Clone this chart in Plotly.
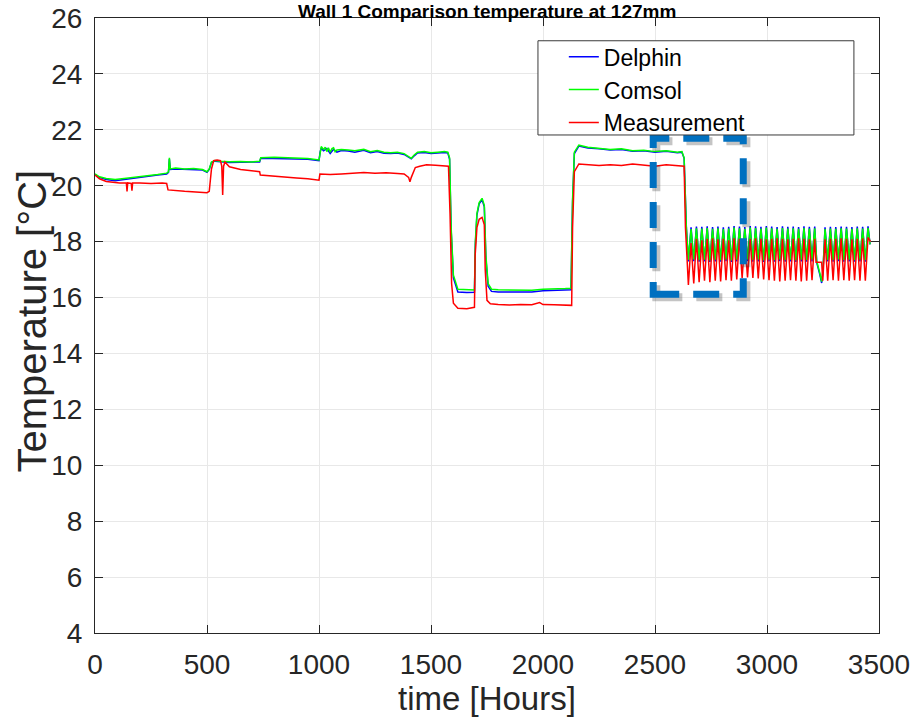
import plotly.graph_objects as go

# ---------------- data (hours, temperature °C) ----------------
delphin = [
    (0, 20.4), (20, 20.3), (50, 20.22), (90, 20.18), (130, 20.22), (180, 20.28), (230, 20.33), (280, 20.38),
    (320, 20.42), (328, 20.48), (332, 20.95), (336, 20.58), (360, 20.6), (420, 20.58), (480, 20.56),
    (500, 20.48), (510, 20.58), (520, 20.83), (535, 20.88), (560, 20.86), (600, 20.83), (650, 20.84),
    (700, 20.83), (735, 20.85), (740, 20.98), (800, 20.98), (850, 20.97), (900, 20.96), (950, 20.95),
    (1000, 20.9), (1005, 21.2), (1010, 21.35), (1020, 21.25), (1035, 21.33), (1050, 21.15), (1065, 21.3),
    (1080, 21.2), (1100, 21.26), (1130, 21.24), (1160, 21.2), (1200, 21.27), (1230, 21.18), (1260, 21.22),
    (1290, 21.16), (1320, 21.15), (1350, 21.17), (1380, 21.12), (1400, 21.02), (1412, 20.96), (1425, 21.07),
    (1440, 21.17), (1470, 21.19), (1500, 21.15), (1530, 21.17), (1560, 21.19), (1575, 21.17), (1583, 20.95),
    (1590, 18.4), (1600, 16.7), (1620, 16.2), (1660, 16.18), (1694, 16.19), (1698, 17.9), (1705, 18.95),
    (1715, 19.35), (1728, 19.5), (1738, 19.25), (1745, 17.4), (1755, 16.4), (1770, 16.22), (1800, 16.2),
    (1850, 16.2), (1900, 16.21), (1950, 16.2), (2000, 16.24), (2050, 16.25), (2100, 16.27), (2125, 16.28),
    (2132, 19.4), (2140, 21.15), (2160, 21.42), (2200, 21.35), (2250, 21.32), (2300, 21.28), (2350, 21.3),
    (2400, 21.23), (2450, 21.25), (2500, 21.2), (2550, 21.23), (2600, 21.18), (2620, 21.2), (2630, 20.98),
    (2640, 18.5),
    (2649, 17.29), (2661, 18.51), (2673, 17.3), (2685, 18.54), (2697, 17.28), (2709, 18.53), (2721, 17.29),
    (2733, 18.55), (2745, 17.27), (2757, 18.52), (2769, 17.29), (2781, 18.54), (2793, 17.28), (2805, 18.51),
    (2817, 17.3), (2829, 18.53), (2841, 17.27), (2853, 18.56), (2865, 17.29), (2877, 18.54), (2889, 17.28),
    (2901, 18.52), (2913, 17.3), (2925, 18.56), (2937, 17.28), (2949, 18.55), (2961, 17.29), (2973, 18.53),
    (2985, 17.27), (2997, 18.56), (3009, 17.29), (3021, 18.54), (3033, 17.28), (3045, 18.52), (3057, 17.3),
    (3069, 18.55), (3081, 17.28), (3093, 18.53), (3105, 17.29), (3117, 18.54), (3129, 17.27), (3141, 18.52),
    (3153, 17.29), (3165, 18.55), (3177, 17.28), (3189, 18.53), (3201, 17.29), (3213, 18.54),
    (3222, 17.25), (3235, 16.85), (3244, 16.52), (3250, 16.95),
    (3259, 18.51), (3271, 17.29), (3283, 18.53), (3295, 17.28), (3307, 18.52), (3319, 17.3), (3331, 18.54),
    (3343, 17.28), (3355, 18.53), (3367, 17.29), (3379, 18.52), (3391, 17.28), (3403, 18.54), (3415, 17.29),
    (3427, 18.53), (3439, 17.28), (3451, 18.55), (3460, 17.9),
]

comsol = [
    (0, 20.42), (20, 20.32), (50, 20.26), (90, 20.22), (130, 20.26), (180, 20.3), (230, 20.36), (280, 20.4),
    (320, 20.45), (328, 20.5), (332, 21.0), (336, 20.6), (360, 20.63), (400, 20.6), (440, 20.62), (480, 20.58),
    (500, 20.5), (510, 20.6), (520, 20.85), (535, 20.9), (560, 20.88), (600, 20.86), (650, 20.87),
    (700, 20.85), (735, 20.88), (740, 21.0), (800, 21.02), (850, 21.0), (900, 20.98), (950, 20.97),
    (1000, 20.92), (1005, 21.25), (1010, 21.4), (1020, 21.3), (1028, 21.38), (1035, 21.22), (1042, 21.36),
    (1050, 21.2), (1058, 21.33), (1065, 21.36), (1072, 21.22), (1080, 21.28), (1100, 21.3), (1130, 21.28),
    (1160, 21.25), (1200, 21.3), (1230, 21.22), (1260, 21.26), (1290, 21.2), (1320, 21.18), (1350, 21.2),
    (1380, 21.15), (1400, 21.05), (1412, 20.98), (1425, 21.1), (1440, 21.2), (1470, 21.22), (1500, 21.18),
    (1530, 21.2), (1560, 21.22), (1575, 21.2), (1583, 21.0),
    (1590, 18.5), (1600, 16.8), (1620, 16.3), (1660, 16.27), (1694, 16.27), (1698, 18.0), (1705, 19.0),
    (1715, 19.4), (1728, 19.55), (1738, 19.3), (1745, 17.5), (1755, 16.5), (1770, 16.3), (1800, 16.28),
    (1850, 16.27), (1900, 16.28), (1950, 16.26), (2000, 16.3), (2050, 16.3), (2100, 16.32), (2125, 16.33),
    (2132, 19.5), (2140, 21.2), (2160, 21.45), (2200, 21.38), (2250, 21.35), (2300, 21.3), (2350, 21.32),
    (2400, 21.25), (2450, 21.27), (2500, 21.22), (2550, 21.25), (2600, 21.2), (2620, 21.22), (2630, 21.0),
    (2640, 18.5),
    (2649, 17.35), (2661, 18.45), (2673, 17.36), (2685, 18.48), (2697, 17.34), (2709, 18.47), (2721, 17.35),
    (2733, 18.49), (2745, 17.33), (2757, 18.46), (2769, 17.35), (2781, 18.48), (2793, 17.34), (2805, 18.45),
    (2817, 17.36), (2829, 18.47), (2841, 17.33), (2853, 18.5), (2865, 17.35), (2877, 18.48), (2889, 17.34),
    (2901, 18.46), (2913, 17.36), (2925, 18.5), (2937, 17.34), (2949, 18.49), (2961, 17.35), (2973, 18.47),
    (2985, 17.33), (2997, 18.5), (3009, 17.35), (3021, 18.48), (3033, 17.34), (3045, 18.46), (3057, 17.36),
    (3069, 18.49), (3081, 17.34), (3093, 18.47), (3105, 17.35), (3117, 18.48), (3129, 17.33), (3141, 18.46),
    (3153, 17.35), (3165, 18.49), (3177, 17.34), (3189, 18.47), (3201, 17.35), (3213, 18.48),
    (3222, 17.3), (3235, 16.9), (3244, 16.57), (3250, 17.0),
    (3259, 18.45), (3271, 17.35), (3283, 18.47), (3295, 17.34), (3307, 18.46), (3319, 17.36), (3331, 18.48),
    (3343, 17.34), (3355, 18.47), (3367, 17.35), (3379, 18.46), (3391, 17.34), (3403, 18.48), (3415, 17.35),
    (3427, 18.47), (3439, 17.34), (3451, 18.49), (3460, 17.9),
]

measurement = [
    (0, 20.38), (20, 20.25), (50, 20.15), (80, 20.12), (110, 20.1), (140, 20.1), (143, 19.8), (146, 20.1),
    (162, 20.08), (165, 19.82), (168, 20.1), (200, 20.1), (250, 20.08), (300, 20.1), (320, 20.08),
    (326, 19.85), (360, 19.82), (400, 19.8), (450, 19.78), (500, 19.75), (510, 19.8), (520, 20.6),
    (530, 20.9), (545, 20.92), (560, 20.9), (566, 20.7), (570, 19.67), (574, 20.7), (580, 20.85),
    (600, 20.68), (650, 20.58), (700, 20.52), (735, 20.5), (738, 20.38), (780, 20.36), (850, 20.32),
    (900, 20.28), (950, 20.25), (1000, 20.2), (1004, 20.42), (1050, 20.4), (1100, 20.42), (1150, 20.45),
    (1200, 20.47), (1250, 20.45), (1300, 20.46), (1350, 20.44), (1380, 20.42), (1400, 20.3), (1406, 20.14),
    (1412, 20.3), (1430, 20.65), (1450, 20.7), (1480, 20.75), (1520, 20.73), (1560, 20.72), (1578, 20.7),
    (1585, 19.0), (1592, 16.5), (1600, 15.8), (1620, 15.62), (1660, 15.6), (1694, 15.65), (1697, 17.5),
    (1705, 18.5), (1715, 18.8), (1728, 18.87), (1738, 18.6), (1742, 17.0), (1750, 15.9), (1765, 15.78),
    (1800, 15.75), (1850, 15.73), (1900, 15.75), (1950, 15.74), (1985, 15.82), (2000, 15.75), (2050, 15.74),
    (2100, 15.72), (2128, 15.72), (2132, 18.5), (2140, 20.5), (2160, 20.78), (2200, 20.75), (2250, 20.72),
    (2300, 20.75), (2350, 20.72), (2400, 20.78), (2450, 20.75), (2500, 20.7), (2550, 20.75), (2600, 20.72),
    (2630, 20.7), (2636, 18.5),
    (2649, 16.45), (2661, 17.95), (2673, 16.5), (2685, 18.1), (2697, 16.55), (2709, 18.05), (2721, 16.6),
    (2733, 18.1), (2745, 16.55), (2757, 18.12), (2769, 16.6), (2781, 18.08), (2793, 16.58), (2805, 18.1),
    (2817, 16.62), (2829, 18.05), (2841, 16.6), (2853, 18.12), (2865, 16.65), (2877, 18.1), (2889, 16.7),
    (2901, 18.08), (2913, 16.72), (2925, 18.1), (2937, 16.7), (2949, 18.12), (2961, 16.68), (2973, 18.1),
    (2985, 16.65), (2997, 18.08), (3009, 16.62), (3021, 18.1), (3033, 16.6), (3045, 18.12), (3057, 16.58),
    (3069, 18.1), (3081, 16.6), (3093, 18.08), (3105, 16.62), (3117, 18.1), (3129, 16.6), (3141, 18.12),
    (3153, 16.58), (3165, 18.1), (3177, 16.6), (3189, 18.08), (3201, 16.62), (3213, 18.1),
    (3219, 17.26), (3244, 17.26), (3249, 16.6),
    (3259, 18.08), (3271, 16.6), (3283, 18.1), (3295, 16.62), (3307, 18.1), (3319, 16.6), (3331, 18.12),
    (3343, 16.62), (3355, 18.1), (3367, 16.6), (3379, 18.08), (3391, 16.62), (3403, 18.1), (3415, 16.6),
    (3427, 18.12), (3439, 16.6), (3451, 18.15), (3462, 18.0),
]

x_ticks = [0, 500, 1000, 1500, 2000, 2500, 3000, 3500]
y_ticks = [4, 6, 8, 10, 12, 14, 16, 18, 20, 22, 24, 26]
series_names = ["Delphin", "Comsol", "Measurement"]
series_colors = ["rgb(0,0,255)", "rgb(0,255,0)", "rgb(255,0,0)"]
zoom_box = dict(x0=2492, x1=2894, y0=16.12, y1=21.7)

TXT = "#262626"
FONT = "Arial, Liberation Sans, sans-serif"

fig = go.Figure()
for name, data, col in zip(series_names, [delphin, comsol, measurement], series_colors):
    fig.add_trace(go.Scatter(
        x=[p[0] for p in data], y=[p[1] for p in data], mode="lines", name=name,
        line=dict(color=col, width=1.5),
    ))

axis_common = dict(
    showline=True, linecolor=TXT, linewidth=1, mirror="ticks",
    ticks="inside", ticklen=8, tickcolor=TXT, tickwidth=1,
    showgrid=True, gridcolor="#e8e8e8", gridwidth=1, zeroline=False,
    tickfont=dict(family=FONT, size=28, color=TXT), ticklabelstandoff=6,
    automargin=False,
)
fig.update_xaxes(range=[0, 3500], tickvals=x_ticks, ticktext=[str(t) for t in x_ticks], **axis_common)
fig.update_yaxes(range=[4, 26], tickvals=y_ticks, ticktext=[str(t) for t in y_ticks], **axis_common)

shapes = []
# shadow of the dashed zoom box
shapes.append(dict(type="rect", xref="x", yref="y",
                   x0=zoom_box["x0"] + 14, x1=zoom_box["x1"] + 14,
                   y0=zoom_box["y0"] - 0.11, y1=zoom_box["y1"] - 0.11,
                   line=dict(color="rgba(60,60,60,0.30)", width=8, dash="26px,14px"), layer="above"))
shapes.append(dict(type="rect", xref="x", yref="y", **zoom_box,
                   line=dict(color="rgb(0,112,192)", width=7, dash="26px,14px"), layer="above"))
# legend box
shapes.append(dict(type="rect", xref="paper", yref="paper",
                   x0=0.565, x1=0.968, y0=0.8098, y1=0.963,
                   fillcolor="white", line=dict(color="#3a3a3a", width=1), layer="above"))

fig.update_layout(
    width=913, height=721,
    margin=dict(l=95, r=34, t=18, b=88, autoexpand=False),
    paper_bgcolor="white", plot_bgcolor="white",
    shapes=shapes,
    showlegend=True,
    legend=dict(x=0.598, y=0.972, xanchor="left", yanchor="top",
                bgcolor="rgba(0,0,0,0)", borderwidth=0,
                font=dict(family=FONT, size=23, color="#000000"),
                tracegroupgap=0),
    annotations=[
        dict(text="<b>Wall 1 Comparison temperature at 127mm</b>", xref="paper", yref="paper",
             x=0.5, y=1.0293, xanchor="center", yanchor="top", showarrow=False, borderpad=0,
             font=dict(family=FONT, size=19, color="#000000")),
        dict(text="time [Hours]", xref="paper", yref="paper", x=0.5, y=-0.1057,
             xanchor="center", yanchor="middle", showarrow=False,
             font=dict(family=FONT, size=33, color=TXT)),
        dict(text="Temperature [°C]", xref="paper", yref="paper", x=-0.0804, y=0.508,
             xanchor="center", yanchor="middle", textangle=-90, showarrow=False,
             font=dict(family=FONT, size=40, color=TXT)),
    ],
)

fig.write_html("out.html")
